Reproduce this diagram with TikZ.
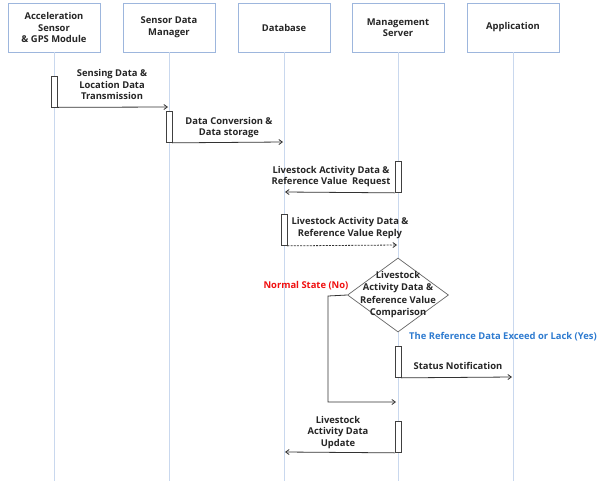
\documentclass[tikz,border=0pt]{standalone}
\usepackage{fontspec}
\setmainfont{Open Sans}
\usetikzlibrary{arrows.meta,shapes.geometric}
\definecolor{boxblue}{HTML}{9DB6DD}
\definecolor{lifeblue}{HTML}{C9D8EE}
\definecolor{msggray}{HTML}{333333}
\definecolor{nored}{HTML}{F01010}
\definecolor{yesblue}{HTML}{2E7BD0}
\tikzset{
  lbl/.style={font=\bfseries\fontsize{9.4}{11.6}\selectfont, align=center, inner sep=0pt, text=black!85},
  actor/.style={lbl, draw=boxblue, line width=0.9pt, fill=white, minimum width=92pt, minimum height=49pt},
  lifeline/.style={draw=lifeblue, line width=0.9pt},
  act/.style={draw=black!75, fill=white, line width=0.7pt, minimum width=6pt, minimum height=31pt, inner sep=0pt},
  msg/.style={draw=msggray, line width=0.8pt, -{Straight Barb[length=3.5pt,width=5pt]}},
  cmp/.style={diamond, draw=black!60, line width=0.7pt, fill=white, minimum width=101pt, minimum height=74pt, inner sep=0pt},
}
\begin{document}
\begin{tikzpicture}[x=1pt, y=-1pt]
\useasboundingbox (0,0) rectangle (598,483);
\fill[white] (0,0) rectangle (598,483);

% participants
\node[actor] (sen) at (54,27.5)  {Acceleration\\Sensor\\\& GPS Module};
\node[actor] (mgr) at (169,27.5) {Sensor Data\\Manager};
\node[actor] (db)  at (284,27.5) {Database};
\node[actor] (srv) at (398,27.5) {Management\\Server};
\node[actor] (app) at (513,27.5) {Application};

% lifelines
\coordinate (senE) at (54,481);
\coordinate (mgrE) at (169,481);
\coordinate (dbE)  at (284,481);
\coordinate (srvE) at (398,481);
\coordinate (appE) at (513,481);
\foreach \p in {sen,mgr,db,srv,app}
  \draw[lifeline] (\p.south) -- (\p E);

% activations
\node[act] (a1) at (54,91.5)   {};
\node[act] (a2) at (169,127)   {};
\node[act] (a3) at (398,177)   {};
\node[act] (a4) at (284,230)   {};
\node[act] (a5) at (398,362)   {};
\node[act] (a6) at (398,437)   {};

% message end points on lifelines
\coordinate (m1) at (168,107);
\coordinate (m2) at (283,142);
\coordinate (m3) at (285,192);
\coordinate (m4) at (397,245);
\coordinate (m5) at (512,377);
\coordinate (m7) at (285,452);

% messages
\draw[msg] (a1.south east) -- (m1);
\draw[msg] (a2.south east) -- (m2);
\draw[msg] (a3.south west) -- (m3);
\draw[msg, dashed, dash pattern=on 2pt off 1.2pt] (a4.south east) -- (m4);
\draw[msg] (a5.south east) -- (m5);
\draw[msg] (a6.south west) -- (m7);

\node[lbl] (t1) at (112,84.5)  {Sensing Data \&\\Location Data\\Transmission};
\node[lbl] (t2) at (229,127.5) {Data Conversion \&\\Data storage};
\node[lbl] (t3) at (331,176.5) {Livestock Activity Data \&\\Reference Value\ \ Request};
\node[lbl] (t4) at (350,228)   {Livestock Activity Data \&\\Reference Value Reply};
\node[lbl] (t5) at (458,366)   {Status Notification};
\node[lbl] (t6) at (338,432.5) {Livestock\\Activity Data\\Update};

% comparison decision
\node[cmp] (dec) at (398,295) {};
\node[lbl, font=\bfseries\fontsize{9.4}{12.3}\selectfont] (dect) at (398,294.5) {Livestock\\Activity Data \&\\Reference Value\\Comparison};

% "no" branch back to the server lifeline
\coordinate (nb1) at (328,296);
\coordinate (nb2) at (328,402);
\coordinate (nb3) at (396,402);
\draw[msg] (dec.west) -- (nb1) -- (nb2) -- (nb3);

\node[lbl, text=nored] (no) at (306,286) {Normal State (No)};
\node[lbl, text=yesblue, anchor=west] (yes) at (409,337) {The Reference Data Exceed or Lack (Yes)};
\end{tikzpicture}
\end{document}
